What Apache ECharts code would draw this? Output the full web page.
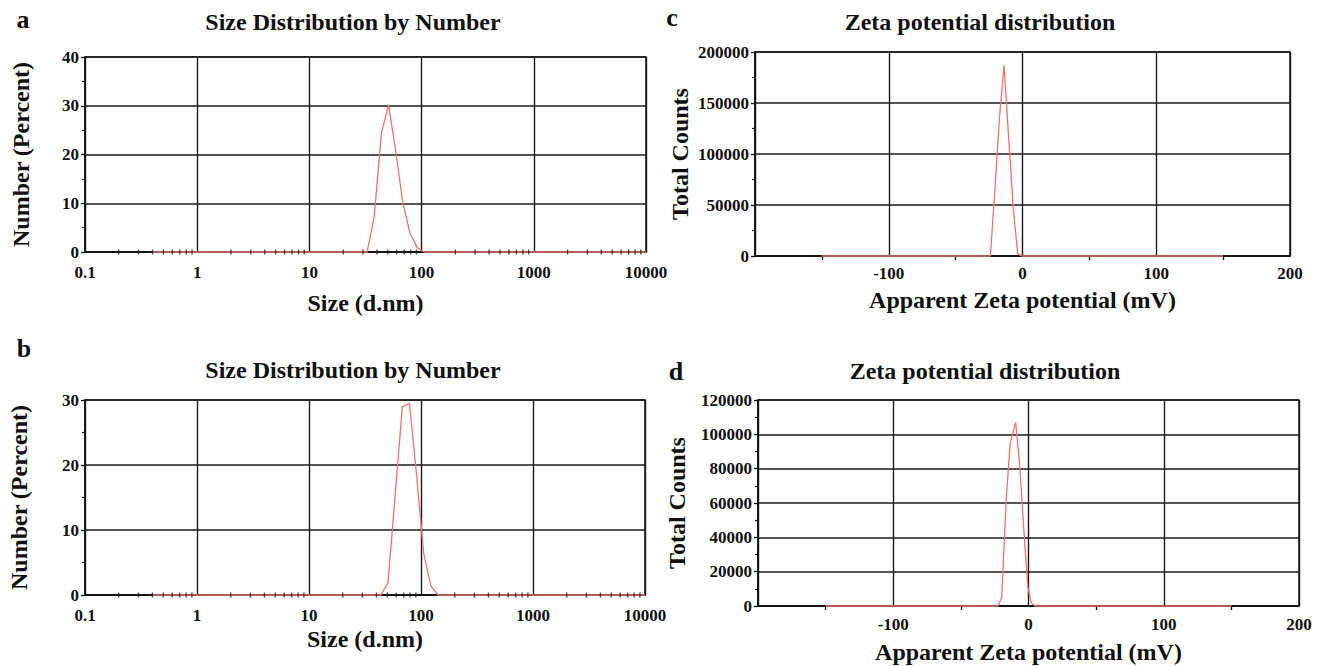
<!DOCTYPE html>
<html><head><meta charset="utf-8">
<script src="https://cdn.jsdelivr.net/npm/echarts@6/dist/echarts.min.js"></script>
<style>html,body{margin:0;padding:0;background:#fff}#chart{width:1324px;height:666px}</style>
</head><body><div id="chart"></div>
<script>
// ---- texts ----
const panelLetters = ['a', 'b', 'c', 'd'];
const sizeTitle = 'Size Distribution by Number';
const zetaTitle = 'Zeta potential distribution';
const sizeAxisName = 'Size (d.nm)';
const numberAxisName = 'Number (Percent)';
const zetaAxisName = 'Apparent Zeta potential (mV)';
const countsAxisName = 'Total Counts';

// ---- panel a : size distribution by number ----
const sizeA   = [0.4, 28.21, 32.67, 37.84, 43.82, 50.75, 58.77, 68.06, 78.82, 91.28, 105.7, 10000];
const numberA = [0,   0,     0,     7.3,   24.4,  30.2,  20.7,  10.1,  3.9,   0.9,   0,     0];

// ---- panel b : size distribution by number ----
const sizeB   = [0.4, 37.84, 43.82, 50.75, 58.77, 68.06, 78.82, 91.28, 105.7, 122.4, 141.8, 10000];
const numberB = [0,   0,     0,     1.9,   15.3,  28.9,  29.5,  18.5,  6.4,   1.4,   0,     0];

// ---- panel c : zeta potential distribution ----
const zetaC   = [-150, -24, -20.6, -17.2, -13.8, -10.4, -7.0, -3.6, -0.2, 150];
const countsC = [0,    0,   66000, 136000, 187000, 117000, 48000, 2000, 0, 0];

// ---- panel d : zeta potential distribution ----
const zetaD   = [-150, -22.5, -19.8, -16.5, -13.5, -9.5, -6.5, -3.5, -0.5, 2.0, 5.0, 150];
const countsD = [0,    0,     5000,  62000, 95000, 107000, 82000, 45000, 11000, 2000, 0, 0];

// ---- axis tick structure ----
const sizeDecades = [0.1, 1, 10, 100, 1000];
const minorMultipliers = [2, 3, 4, 5, 6, 7, 8, 9];
const sizeMinorTicks = sizeDecades.flatMap(d => minorMultipliers.map(m => +(d * m).toPrecision(3)));

const FONT = '"Liberation Serif", "Times New Roman", serif';
const INK = '#111';
const RED = '#f07272';

const grids = [
  { left: 85,  top: 57,  width: 561, height: 195 },
  { left: 85,  top: 400, width: 560, height: 195 },
  { left: 755, top: 52,  width: 535, height: 204 },
  { left: 758, top: 400, width: 541, height: 206 }
].map(g => Object.assign({ show: true, borderColor: INK, borderWidth: 1.5, backgroundColor: 'transparent', containLabel: false, outerBoundsMode: 'none' }, g));

const tickLabel = { color: INK, fontFamily: FONT, fontWeight: 'bold', fontSize: 17, formatter: v => String(v) };
const nameStyle = { color: INK, fontFamily: FONT, fontWeight: 'bold', fontSize: 24 };
const hSplit = { show: true, lineStyle: { color: '#1a1a1a', width: 1.7 } };
const vSplit = { show: true, lineStyle: { color: '#1a1a1a', width: 1.4 } };
const axisLine = { show: true, onZero: false, lineStyle: { color: INK, width: 1.5 } };

function sizeX(gi, gap) {
  return { type: 'log', logBase: 10, gridIndex: gi, min: 0.1, max: 10000,
    axisLine, axisTick: { show: false }, splitLine: vSplit,
    axisLabel: Object.assign({ margin: 12 }, tickLabel),
    name: sizeAxisName, nameLocation: 'middle', nameGap: gap, nameTextStyle: nameStyle };
}
function zetaX(gi, gap, margin) {
  return { type: 'value', gridIndex: gi, min: -200, max: 200, interval: 100,
    axisLine, axisTick: { show: false },
    minorTick: { show: true, splitNumber: 2, length: 4, lineStyle: { color: INK, width: 1.3 } },
    minorSplitLine: { show: false },
    splitLine: vSplit,
    axisLabel: Object.assign({ margin: margin, showMinLabel: false }, tickLabel),
    name: zetaAxisName, nameLocation: 'middle', nameGap: gap, nameTextStyle: nameStyle };
}
function valueY(gi, max, interval, name, gap) {
  return { type: 'value', gridIndex: gi, min: 0, max: max, interval: interval,
    axisLine, axisTick: { show: true, length: 4, lineStyle: { color: INK, width: 1.3 } },
    minorTick: { show: true, splitNumber: 2, length: 3, lineStyle: { color: INK, width: 1.2 } },
    minorSplitLine: { show: false },
    splitLine: hSplit,
    axisLabel: Object.assign({ margin: 6 }, tickLabel),
    name: name, nameLocation: 'middle', nameGap: gap, nameTextStyle: nameStyle };
}

function curve(idx, xs, ys) {
  return { type: 'line', xAxisIndex: idx, yAxisIndex: idx, symbol: 'none', clip: false, z: 3,
    lineStyle: { color: RED, width: 1.3 }, data: xs.map((x, i) => [x, ys[i]]) };
}
function minorTickMarks(idx) {
  return { type: 'scatter', xAxisIndex: idx, yAxisIndex: idx, symbol: 'rect', symbolSize: [1.4, 5],
    itemStyle: { color: '#222' }, z: 4, silent: true, clip: false,
    data: sizeMinorTicks.map(v => [v, 0]) };
}

function txt(text, x, y, size) {
  return { type: 'text', x: x, y: y, silent: true,
    style: { text: text, fill: INK, font: 'bold ' + size + 'px ' + FONT,
      align: 'center', verticalAlign: 'middle', textAlign: 'center', textVerticalAlign: 'middle' } };
}

const option = {
  animation: false,
  backgroundColor: '#fff',
  grid: grids,
  xAxis: [sizeX(0, 39), sizeX(1, 32), zetaX(2, 32, 9), zetaX(3, 34, 10)],
  yAxis: [
    valueY(0, 40, 10, numberAxisName, 52),
    valueY(1, 30, 10, numberAxisName, 54),
    valueY(2, 200000, 50000, countsAxisName, 63),
    valueY(3, 120000, 20000, countsAxisName, 69)
  ],
  series: [
    curve(0, sizeA, numberA), minorTickMarks(0),
    curve(1, sizeB, numberB), minorTickMarks(1),
    curve(2, zetaC, countsC),
    curve(3, zetaD, countsD)
  ],
  graphic: [
    txt(panelLetters[0], 23, 19.5, 26),
    txt(panelLetters[1], 24, 348, 26),
    txt(panelLetters[2], 672, 17.5, 26),
    txt(panelLetters[3], 676, 371, 26),
    txt(sizeTitle, 353, 22, 24),
    txt(sizeTitle, 353, 370, 24),
    txt(zetaTitle, 980, 21.5, 24),
    txt(zetaTitle, 985, 371, 24)
  ]
};

const chart = echarts.init(document.getElementById('chart'), null, { renderer: 'svg' });
chart.setOption(option);
</script>
</body></html>
